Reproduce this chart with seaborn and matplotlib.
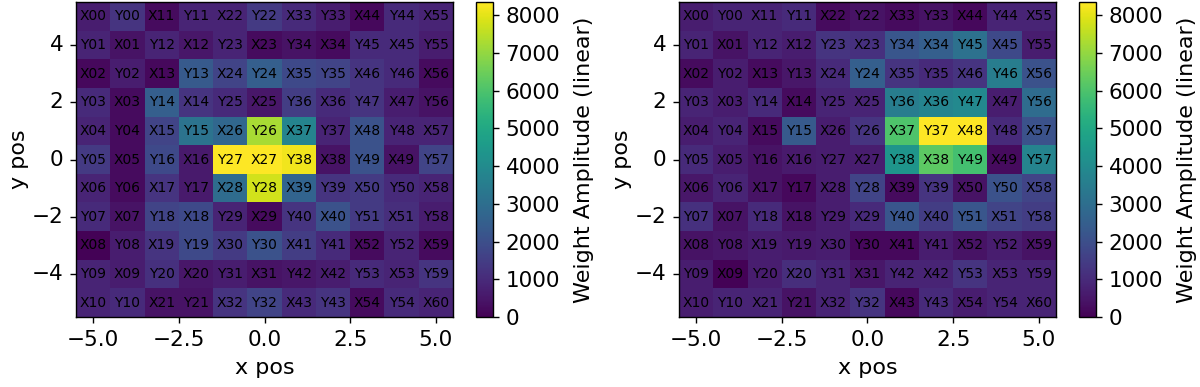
import numpy as np
import matplotlib
matplotlib.use("Agg")
import matplotlib.pyplot as plt
import seaborn as sns

plt.rcParams['font.family'] = ['DejaVu Sans']
plt.rcParams['font.size'] = 14

x_pos = [-5, -4, -3, -2, -1, 0, 1, 2, 3, 4, 5]
y_pos = [5, 4, 3, 2, 1, 0, -1, -2, -3, -4, -5]
x_ticks = [-5.0, -2.5, 0.0, 2.5, 5.0]
y_ticks = [-4, -2, 0, 2, 4]
cbar_ticks = [0, 1000, 2000, 3000, 4000, 5000, 6000, 7000, 8000]

cell_labels = [
    "X00 Y00 X11 Y11 X22 Y22 X33 Y33 X44 Y44 X55".split(),
    "Y01 X01 Y12 X12 Y23 X23 Y34 X34 Y45 X45 Y55".split(),
    "X02 Y02 X13 Y13 X24 Y24 X35 Y35 X46 Y46 X56".split(),
    "Y03 X03 Y14 X14 Y25 X25 Y36 X36 Y47 X47 Y56".split(),
    "X04 Y04 X15 Y15 X26 Y26 X37 Y37 X48 Y48 X57".split(),
    "Y05 X05 Y16 X16 Y27 X27 Y38 X38 Y49 X49 Y57".split(),
    "X06 Y06 X17 Y17 X28 Y28 X39 Y39 X50 Y50 X58".split(),
    "Y07 X07 Y18 X18 Y29 X29 Y40 X40 Y51 X51 Y58".split(),
    "X08 Y08 X19 Y19 X30 Y30 X41 Y41 X52 Y52 X59".split(),
    "Y09 X09 Y20 X20 Y31 X31 Y42 X42 Y53 X53 Y59".split(),
    "X10 Y10 X21 Y21 X32 Y32 X43 Y43 X54 Y54 X60".split(),
]

weights_left = [
    [670, 1250, 250, 835, 835, 1420, 1000, 670, 170, 1000, 835],
    [835, 420, 835, 500, 835, 250, 420, 250, 1000, 1000, 670],
    [170, 670, 170, 2340, 1670, 2500, 1840, 1670, 1250, 1000, 250],
    [1000, 250, 2500, 1250, 1000, 500, 1500, 1000, 1250, 670, 420],
    [835, 250, 1670, 3170, 2750, 7260, 3760, 835, 2090, 835, 835],
    [1420, 250, 1840, 585, 8350, 8350, 8180, 420, 2090, 420, 1670],
    [835, 250, 1250, 585, 2920, 7770, 2670, 1250, 1420, 1000, 835],
    [1000, 420, 1670, 1840, 835, 250, 1250, 2090, 1420, 1085, 670],
    [50, 670, 1250, 1840, 1420, 2090, 1500, 1000, 250, 835, 250],
    [835, 670, 1170, 500, 670, 420, 500, 670, 1000, 835, 1250],
    [835, 1000, 420, 420, 1250, 1670, 1000, 1250, 250, 1000, 835],
]

weights_right = [
    [670, 835, 835, 1000, 250, 420, 250, 420, 170, 835, 835],
    [835, 420, 835, 670, 1250, 1170, 2250, 2500, 3090, 1840, 670],
    [250, 670, 250, 500, 1000, 2500, 1250, 1000, 1250, 3500, 2090],
    [835, 670, 1000, 250, 835, 835, 3500, 3760, 3920, 670, 2920],
    [670, 835, 250, 2340, 670, 1250, 6010, 8350, 8350, 1000, 2090],
    [1000, 670, 420, 585, 670, 670, 4340, 6260, 5850, 250, 3760],
    [500, 835, 420, 170, 670, 1670, 250, 1250, 420, 2090, 1670],
    [1170, 420, 1000, 420, 670, 1000, 2250, 1500, 2250, 1670, 1500],
    [420, 500, 670, 585, 670, 170, 170, 670, 420, 670, 420],
    [670, 50, 670, 1085, 835, 500, 835, 835, 1250, 835, 835],
    [670, 835, 835, 420, 835, 1250, 170, 1000, 670, 835, 835],
]

fig = plt.figure(figsize=(12, 3.87), dpi=100)
H = 387.0
W = 1200.0
bottom = (H - 317) / H
height = 315 / H
panels = [
    (weights_left, [76 / W, bottom, 377 / W, height], [476 / W, bottom, 17 / W, height]),
    (weights_right, [679 / W, bottom, 377 / W, height], [1079 / W, bottom, 17 / W, height]),
]

def fmt_num(v, dec):
    s = f"{v:.{dec}f}"
    return s.replace("-", "\u2212")

TICK_FS = 15.5
LABEL_FS = 16

for data, axrect, caxrect in panels:
    ax = fig.add_axes(axrect)
    cax = fig.add_axes(caxrect)
    arr = np.array(data, dtype=float)
    sns.heatmap(arr, ax=ax, cbar_ax=cax, cmap="viridis", vmin=0, vmax=arr.max(),
                annot=np.array(cell_labels), fmt="",
                annot_kws={"fontsize": 10, "color": "black"},
                cbar_kws={"label": "Weight Amplitude (linear)", "ticks": cbar_ticks})
    for s in ax.spines.values():
        s.set_visible(True)
        s.set_linewidth(1.0)
        s.set_color("black")
    ax.set_xticks([v - x_pos[0] + 0.5 for v in x_ticks])
    ax.set_xticklabels([fmt_num(v, 1) for v in x_ticks], rotation=0)
    ax.set_yticks([y_pos[0] - v + 0.5 for v in y_ticks])
    ax.set_yticklabels([fmt_num(v, 0) for v in y_ticks], rotation=0, va="center")
    ax.tick_params(axis="both", direction="out", length=4, width=1.0, pad=5,
                   labelsize=TICK_FS)
    ax.set_xlabel("x pos", fontsize=LABEL_FS, labelpad=6)
    ax.set_ylabel("y pos", fontsize=LABEL_FS, labelpad=2)
    cb = ax.collections[0].colorbar
    cb.outline.set_visible(True)
    cb.outline.set_linewidth(1.0)
    cb.outline.set_edgecolor("black")
    cb.ax.tick_params(labelsize=TICK_FS, length=4, width=1.0, pad=5)
    cb.set_label("Weight Amplitude (linear)", fontsize=LABEL_FS, labelpad=10)

fig.savefig("out.png", dpi=100)
